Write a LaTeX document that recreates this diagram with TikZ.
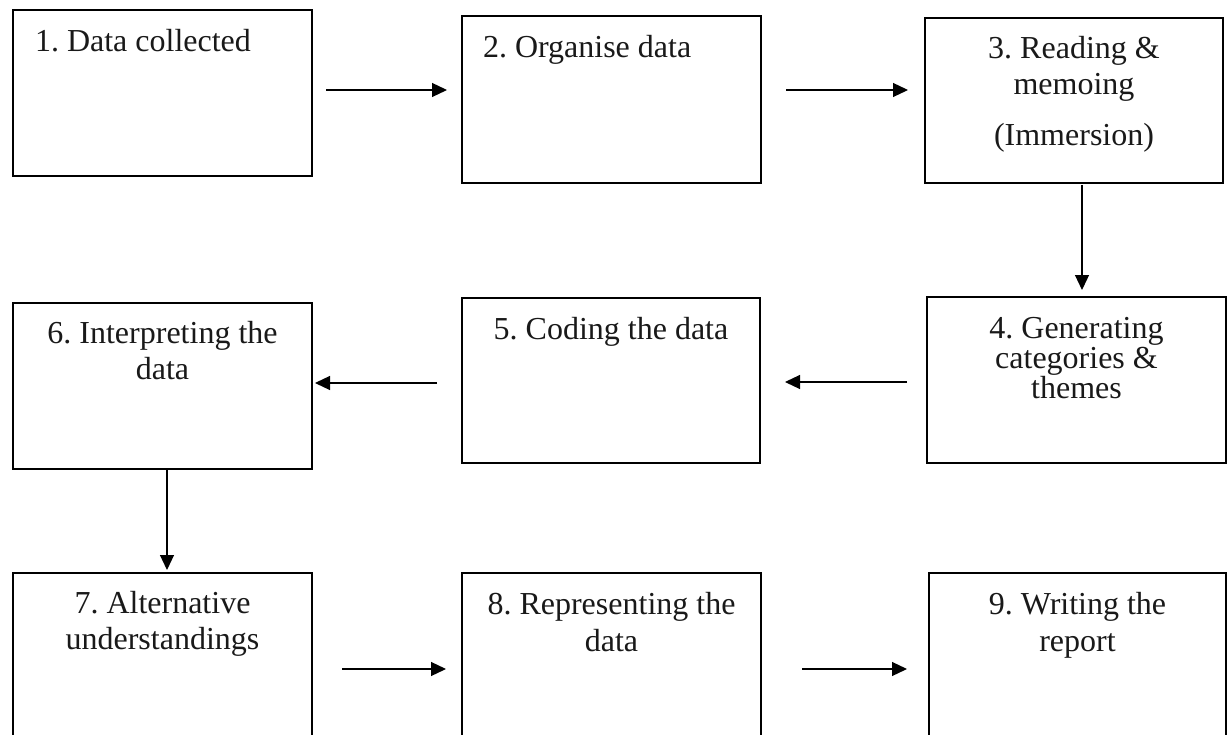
\documentclass[tikz,border=0pt]{standalone}
\usepackage{fontspec}
\setmainfont{Liberation Serif}
\usetikzlibrary{arrows.meta}
\begin{document}
\frenchspacing
\begin{tikzpicture}[x=1pt, y=-1pt,
  stage/.style={draw=black, line width=1.3pt, inner sep=0pt, outer sep=0pt},
  stagetext/.style={inner sep=0pt, outer sep=0pt, anchor=north, align=center,
    font=\fontsize{32}{36.5}\selectfont, text=black!90},
  flow/.style={line width=1.2pt, -{Triangle[length=15pt,width=14pt]}}]
\useasboundingbox (0,0) rectangle (1228,735);
\clip (0,0) rectangle (1228,735);

% stage boxes (bottom row runs past the lower edge)
\node[stage, minimum width=299pt, minimum height=166pt] (b1) at (162.5,93) {};
\node[stage, minimum width=299pt, minimum height=167pt] (b2) at (611.5,99.5) {};
\node[stage, minimum width=298pt, minimum height=165pt] (b3) at (1074,100.5) {};
\node[stage, minimum width=299pt, minimum height=166pt] (b4) at (1076.5,380) {};
\node[stage, minimum width=298pt, minimum height=165pt] (b5) at (611,380.5) {};
\node[stage, minimum width=299pt, minimum height=166pt] (b6) at (162.5,386) {};
\node[stage, minimum width=299pt, minimum height=167pt] (b7) at (162.5,656.5) {};
\node[stage, minimum width=299pt, minimum height=167pt] (b8) at (611.5,656.5) {};
\node[stage, minimum width=297pt, minimum height=167pt] (b9) at (1077.5,656.5) {};

% stage texts
\node[stagetext, anchor=north west, align=left] (t1) at ([xshift=22pt,yshift=-15.5pt]b1.north west) {\strut 1. Data collected};
\node[stagetext, anchor=north west, align=left] (t2) at ([xshift=21pt,yshift=-15.5pt]b2.north west) {\strut 2. Organise data};
\node[stagetext] (t3) at ([yshift=-14.5pt]b3.north) {\strut 3. Reading \&\\ memoing\\[14pt] (Immersion)};
\node[stagetext] (t4) at ([yshift=-15.5pt]b4.north) {\strut 4. Generating\\[-6.5pt] categories \&\\[-6.5pt] themes};
\node[stagetext] (t5) at ([yshift=-15.5pt]b5.north) {\strut 5. Coding the data};
\node[stagetext] (t6) at ([yshift=-14.5pt]b6.north) {\strut 6. Interpreting the\\ data};
\node[stagetext] (t7) at ([yshift=-14.5pt]b7.north) {\strut 7. Alternative\\ understandings};
\node[stagetext] (t8) at ([yshift=-16pt]b8.north) {\strut 8. Representing the\\ data};
\node[stagetext] (t9) at ([yshift=-16pt]b9.north) {\strut 9. Writing the\\ report};

% connectors
\draw[flow, shorten <=14pt, shorten >=15pt] (b1.east |- 0,90) -- (b2.west |- 0,90);
\draw[flow, shorten <=25pt, shorten >=17pt] (b2.east |- 0,90) -- (b3.west |- 0,90);
\draw[flow, shorten <=2pt, shorten >=7pt] (1082,0 |- b3.south) -- (1082,0 |- b4.north);
\draw[flow, shorten <=20pt, shorten >=25pt] (b4.west |- 0,382) -- (b5.east |- 0,382);
\draw[flow, shorten <=25pt, shorten >=3pt] (b5.west |- 0,383) -- (b6.east |- 0,383);
\draw[flow, shorten <=0pt, shorten >=3pt] (167,0 |- b6.south) -- (167,0 |- b7.north);
\draw[flow, shorten <=30pt, shorten >=16pt] (b7.east |- 0,669) -- (b8.west |- 0,669);
\draw[flow, shorten <=41pt, shorten >=22pt] (b8.east |- 0,669) -- (b9.west |- 0,669);
\end{tikzpicture}
\end{document}
